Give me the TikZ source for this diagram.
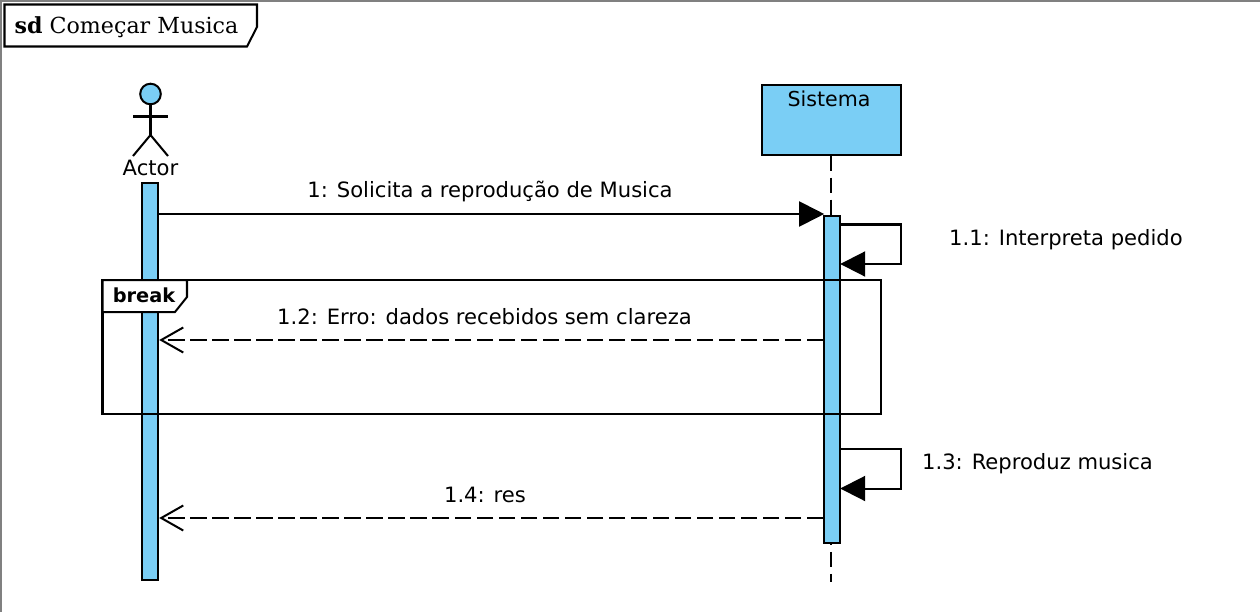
\documentclass[tikz,border=0pt]{standalone}
\usepackage{fontspec}
\setmainfont{DejaVu Sans}
\newfontfamily\tagfont{DejaVu Serif}
\usetikzlibrary{arrows.meta}
\definecolor{umlblue}{HTML}{7ACEF5}
\tikzset{
    umlline/.style={line width=0.57pt, black},
    bar/.style={draw=black, line width=0.57pt, fill=umlblue, anchor=north, inner sep=0pt, minimum width=0.16cm},
    sync/.style={umlline, shorten >=-0.01cm, -{Triangle[length=0.25cm,width=0.25cm]}},
    reply/.style={umlline, dash pattern=on 0.165cm off 0.055cm, -{Straight Barb[length=0.22cm,width=0.25cm]}},
    lifeline/.style={umlline, dash pattern=on 0.15cm off 0.07cm},
    msg/.style={font=\fontsize{6}{7}\selectfont, inner sep=0pt},
    tagtext/.style={font=\fontsize{6.3}{7}\tagfont, inner sep=0pt, anchor=west}
}
\begin{document}
\begin{tikzpicture}[x=0.01cm,y=-0.01cm]
    \useasboundingbox (0,0) rectangle (1260,612);
    % diagram border
    \draw [gray, line width=0.7pt] (1,612) -- (1,1) -- (1260,1);
    \draw [umlline, fill=white] (4.5,4.5) -- (257,4.5) -- (257,27) -- (247,46.5) -- (4.5,46.5) -- cycle;
    \node [tagtext] (title) at (14,27.5) {\textbf{sd} Começar Musica};
    % actor
    \draw [umlline, fill=umlblue] (150.5,94) circle (10.3);
    \draw [umlline] (150.5,104) -- (150.5,135);
    \draw [umlline] (133,116.5) -- (168,116.5);
    \draw [umlline] (133,156) -- (150.5,135) -- (168,156);
    \node [msg] (actor) at (150.5,168) {Actor};
    % sistema
    \node [draw=black, line width=0.57pt, fill=umlblue, anchor=north, inner sep=0pt, minimum width=1.385cm, minimum height=0.695cm] (sistema) at (831.5,84) {};
    \node [msg, font=\fontsize{5.85}{7}\selectfont] (sistemaname) at (829,99) {Sistema};
    \coordinate (lifeend) at (830.5,582);
    \draw [lifeline] (sistema.south -| lifeend) -- (lifeend);
    % bars
    \node [bar, minimum height=3.97cm] (barA) at (150.2,182) {};
    \node [bar, minimum height=3.275cm] (barS) at (832.2,214.5) {};
    % messages
    \coordinate (m1s) at (barA.east |- 0,214);
    \coordinate (m1e) at (barS.west |- 0,214);
    \draw [sync] (m1s) -- (m1e);
    \node [msg] (m1) at (490,191.5) {1: Solicita a reprodução de Musica};
    \coordinate (s1a) at (barS.east |- 0,224.5);
    \coordinate (s1b) at (901,224.5);
    \coordinate (s1c) at (901,264);
    \coordinate (s1d) at (barS.east |- 0,264);
    \draw [sync] (s1a) -- (s1b) -- (s1c) -- (s1d);
    \node [msg] (m11) at (1066,240) {1.1: Interpreta pedido};
    \coordinate (m12s) at (barS.west |- 0,340);
    \coordinate (m12e) at (barA.east |- 0,340);
    \draw [reply] (m12s) -- (m12e);
    \node [msg] (m12) at (484.5,317) {1.2: Erro: dados recebidos sem clareza};
    \coordinate (s3a) at (barS.east |- 0,448.5);
    \coordinate (s3b) at (900.5,448.5);
    \coordinate (s3c) at (900.5,488.5);
    \coordinate (s3d) at (barS.east |- 0,488.5);
    \draw [sync] (s3a) -- (s3b) -- (s3c) -- (s3d);
    \node [msg] (m13) at (1037.5,464) {1.3: Reproduz musica};
    \coordinate (m14s) at (barS.west |- 0,518);
    \coordinate (m14e) at (barA.east |- 0,518);
    \draw [reply] (m14s) -- (m14e);
    \node [msg] (m14) at (485,495) {1.4: res};
    % break fragment
    \draw [umlline] (102.5,280) rectangle (880.5,414);
    \draw [umlline, fill=white] (102.5,280) -- (187,280) -- (187,297) -- (175,312) -- (102.5,312) -- cycle;
    \node [msg, font=\fontsize{5.5}{7}\selectfont\bfseries] (breaklabel) at (144,295) {break};
\end{tikzpicture}
\end{document}
